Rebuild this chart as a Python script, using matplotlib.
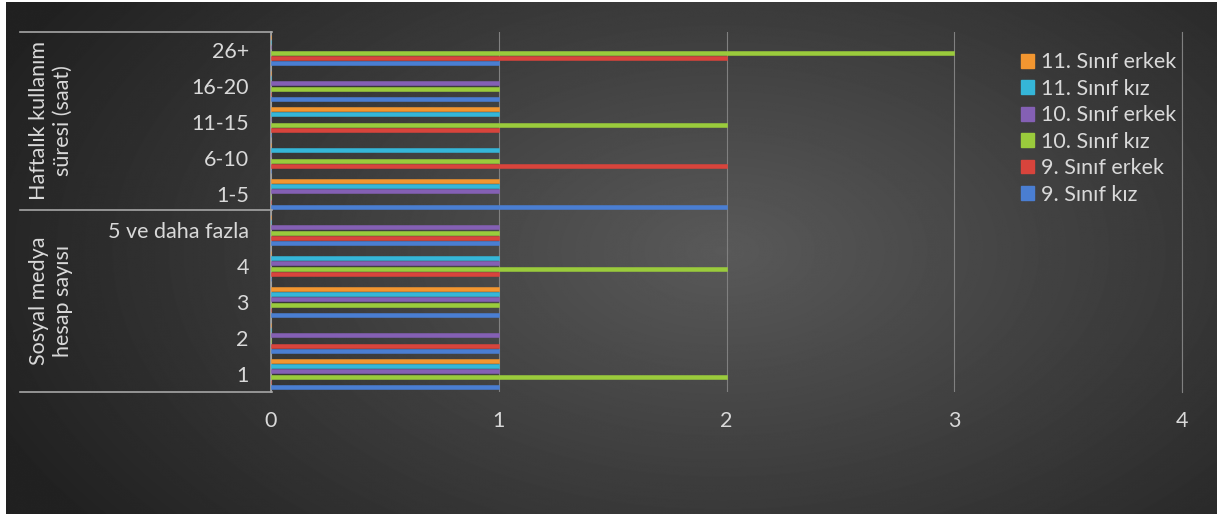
import numpy as np
import matplotlib
matplotlib.use("Agg")
import matplotlib.pyplot as plt
from matplotlib.lines import Line2D
from matplotlib.patches import Patch

plt.rcParams['font.family'] = ['Lato', 'DejaVu Sans']

# categories, bottom to top
categories = ['1', '2', '3', '4', '5 ve daha fazla',
              '1-5', '6-10', '11-15', '16-20', '26+']
groups = ['Sosyal medya\nhesap sayısı', 'Haftalık kullanım\nsüresi (saat)']

series_names = ['9. Sınıf kız', '9. Sınıf erkek', '10. Sınıf kız',
                '10. Sınıf erkek', '11. Sınıf kız', '11. Sınıf erkek']
kiz9 = [1, 1, 1, 0, 1, 2, 0, 0, 1, 1]
erkek9 = [0, 1, 0, 1, 1, 0, 2, 1, 0, 2]
kiz10 = [2, 0, 1, 2, 1, 0, 1, 2, 1, 3]
erkek10 = [1, 1, 1, 1, 1, 1, 0, 0, 1, 0]
kiz11 = [1, 0, 1, 1, 0, 1, 1, 1, 0, 0]
erkek11 = [1, 0, 1, 0, 0, 1, 0, 1, 0, 0]
series = [kiz9, erkek9, kiz10, erkek10, kiz11, erkek11]
colors = ['#4a7ed2', '#d8443c', '#9acb3c', '#8460b4', '#35b6d8', '#f29630']
xticks = [0, 1, 2, 3, 4]

W, H = 1217, 515
fig = plt.figure(figsize=(W / 100, H / 100), dpi=100, facecolor='white')

# background with radial gradient
bg = fig.add_axes([6 / W, 1 / H, 1 - 6 / W, 1 - 3 / H])
yy, xx = np.mgrid[0:H, 0:W]
r = np.sqrt(((xx - 720) / 720.0) ** 2 + ((yy - 250) / 420.0) ** 2)
shade = np.clip(0.35 - 0.2 * r, 0.13, 0.35)
bg.imshow(shade, cmap='gray', vmin=0, vmax=1, aspect='auto',
          interpolation='bilinear')
bg.set_axis_off()

def fx(px):
    return px / W

def fy(py):
    return 1 - py / H

ax = fig.add_axes([fx(271), fy(392), fx(1182) - fx(271), fy(32) - fy(392)])
ax.patch.set_alpha(0)

y = np.arange(len(categories))
slot = 0.147
for k, (vals, col) in enumerate(zip(series, colors)):
    ax.barh(y + (k - 2.5) * slot, vals, height=0.11, color=col,
            edgecolor=col, linewidth=0.4, label=series_names[k], zorder=3)

ax.set_xlim(0, 4)
ax.set_ylim(-0.5, len(categories) - 0.5)
ax.set_xticks(xticks)
ax.set_xticklabels([str(v) for v in xticks])
ax.set_yticks(y)
ax.set_yticklabels(categories)
ax.tick_params(axis='both', length=0, colors='#d9d9d9', labelsize=15.5)
ax.tick_params(axis='x', pad=14)
ax.tick_params(axis='y', pad=16)
ax.grid(axis='x', color='#808080', linewidth=0.8, zorder=0)
ax.axvline(4, color='#808080', linewidth=0.8, zorder=0, clip_on=False)
for s in ['top', 'right', 'bottom']:
    ax.spines[s].set_visible(False)
ax.spines['left'].set_color('#a6a6a6')
ax.spines['left'].set_linewidth(1.2)

# hierarchical category box
for py in [32, 210, 392]:
    fig.add_artist(Line2D([fx(20), fx(272)], [fy(py), fy(py)],
                          color='#a6a6a6', linewidth=1.2))
fig.text(fx(51), fy(301), groups[0], rotation=90, ha='center', va='center',
         color='#d9d9d9', fontsize=15.5, linespacing=1.25)
fig.text(fx(51), fy(121), groups[1], rotation=90, ha='center', va='center',
         color='#d9d9d9', fontsize=15.5, linespacing=1.25)

handles = [Patch(facecolor=c, edgecolor=c) for c in colors][::-1]
fig.legend(handles, series_names[::-1], loc='upper left',
           bbox_to_anchor=(fx(1002), fy(33)), frameon=False,
           fontsize=15.5, labelcolor='#d9d9d9', handlelength=0.6,
           handleheight=0.6, handletextpad=0.3, labelspacing=0.3)

fig.savefig('out.png', dpi=100, facecolor='white')
